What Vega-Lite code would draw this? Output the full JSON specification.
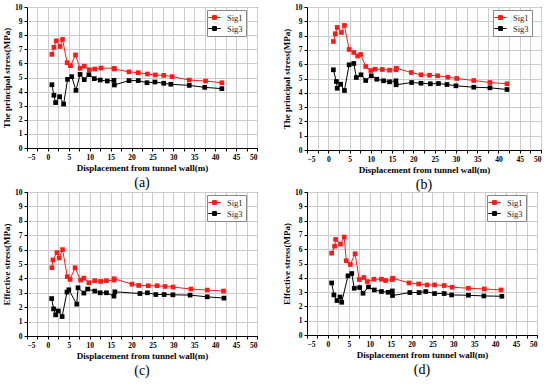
{
  "$schema": "https://vega.github.io/schema/vega-lite/v6.json",
  "padding": {"left": 2, "top": 2, "right": 4, "bottom": 0},
  "background": "white",
  "datasets": {
    "a": [
      {"s":"Sig1","x":0.96,"y":6.64},{"s":"Sig1","x":1.44,"y":7.14},{"s":"Sig1","x":2.0,"y":7.6},{"s":"Sig1","x":2.9,"y":7.2},{"s":"Sig1","x":3.5,"y":7.7},{"s":"Sig1","x":4.6,"y":6.05},{"s":"Sig1","x":5.4,"y":5.84},{"s":"Sig1","x":6.6,"y":6.6},{"s":"Sig1","x":7.7,"y":5.65},{"s":"Sig1","x":8.7,"y":5.8},{"s":"Sig1","x":9.9,"y":5.55},{"s":"Sig1","x":11.2,"y":5.6},{"s":"Sig1","x":12.7,"y":5.67},{"s":"Sig1","x":15.8,"y":5.65},{"s":"Sig1","x":15.9,"y":5.6},{"s":"Sig1","x":19.4,"y":5.4},{"s":"Sig1","x":21.6,"y":5.34},{"s":"Sig1","x":23.8,"y":5.25},{"s":"Sig1","x":25.7,"y":5.18},{"s":"Sig1","x":27.7,"y":5.15},{"s":"Sig1","x":29.7,"y":5.06},{"s":"Sig1","x":33.8,"y":4.82},{"s":"Sig1","x":37.7,"y":4.75},{"s":"Sig1","x":41.6,"y":4.63},
      {"s":"Sig3","x":0.96,"y":4.49},{"s":"Sig3","x":1.44,"y":3.74},{"s":"Sig3","x":1.84,"y":3.22},{"s":"Sig3","x":2.8,"y":3.64},{"s":"Sig3","x":3.76,"y":3.12},{"s":"Sig3","x":4.7,"y":4.87},{"s":"Sig3","x":5.7,"y":5.06},{"s":"Sig3","x":6.7,"y":4.09},{"s":"Sig3","x":7.7,"y":5.22},{"s":"Sig3","x":8.7,"y":4.85},{"s":"Sig3","x":9.8,"y":5.2},{"s":"Sig3","x":11.1,"y":4.92},{"s":"Sig3","x":12.5,"y":4.82},{"s":"Sig3","x":14.2,"y":4.75},{"s":"Sig3","x":15.8,"y":4.8},{"s":"Sig3","x":15.9,"y":4.47},{"s":"Sig3","x":19.4,"y":4.78},{"s":"Sig3","x":21.6,"y":4.78},{"s":"Sig3","x":23.7,"y":4.63},{"s":"Sig3","x":25.6,"y":4.68},{"s":"Sig3","x":27.7,"y":4.59},{"s":"Sig3","x":29.4,"y":4.52},{"s":"Sig3","x":33.8,"y":4.44},{"s":"Sig3","x":37.5,"y":4.3},{"s":"Sig3","x":41.6,"y":4.21}
    ],
    "b": [
      {"s":"Sig1","x":1.2,"y":7.59},{"s":"Sig1","x":1.66,"y":8.13},{"s":"Sig1","x":2.1,"y":8.57},{"s":"Sig1","x":3.1,"y":8.22},{"s":"Sig1","x":3.8,"y":8.71},{"s":"Sig1","x":4.9,"y":7.03},{"s":"Sig1","x":6.0,"y":6.82},{"s":"Sig1","x":6.9,"y":6.57},{"s":"Sig1","x":7.6,"y":6.68},{"s":"Sig1","x":8.8,"y":5.84},{"s":"Sig1","x":10.0,"y":5.56},{"s":"Sig1","x":11.0,"y":5.65},{"s":"Sig1","x":12.7,"y":5.63},{"s":"Sig1","x":14.4,"y":5.58},{"s":"Sig1","x":15.9,"y":5.61},{"s":"Sig1","x":16.0,"y":5.72},{"s":"Sig1","x":19.5,"y":5.42},{"s":"Sig1","x":21.8,"y":5.26},{"s":"Sig1","x":23.8,"y":5.23},{"s":"Sig1","x":25.7,"y":5.19},{"s":"Sig1","x":28.1,"y":5.09},{"s":"Sig1","x":30.2,"y":5.0},{"s":"Sig1","x":34.2,"y":4.86},{"s":"Sig1","x":38.0,"y":4.72},{"s":"Sig1","x":42.0,"y":4.63},
      {"s":"Sig3","x":1.2,"y":5.61},{"s":"Sig3","x":1.9,"y":4.79},{"s":"Sig3","x":2.1,"y":4.32},{"s":"Sig3","x":2.9,"y":4.6},{"s":"Sig3","x":3.8,"y":4.16},{"s":"Sig3","x":4.9,"y":5.96},{"s":"Sig3","x":6.0,"y":6.05},{"s":"Sig3","x":6.6,"y":5.07},{"s":"Sig3","x":7.7,"y":5.26},{"s":"Sig3","x":8.8,"y":4.86},{"s":"Sig3","x":10.1,"y":5.19},{"s":"Sig3","x":11.4,"y":4.95},{"s":"Sig3","x":13.0,"y":4.84},{"s":"Sig3","x":14.4,"y":4.77},{"s":"Sig3","x":15.9,"y":4.84},{"s":"Sig3","x":15.95,"y":4.56},{"s":"Sig3","x":19.6,"y":4.72},{"s":"Sig3","x":21.8,"y":4.67},{"s":"Sig3","x":24.0,"y":4.63},{"s":"Sig3","x":25.9,"y":4.65},{"s":"Sig3","x":27.9,"y":4.58},{"s":"Sig3","x":30.0,"y":4.49},{"s":"Sig3","x":34.2,"y":4.39},{"s":"Sig3","x":38.0,"y":4.35},{"s":"Sig3","x":42.0,"y":4.23}
    ],
    "c": [
      {"s":"Sig1","x":0.96,"y":4.74},{"s":"Sig1","x":1.2,"y":5.28},{"s":"Sig1","x":2.16,"y":5.79},{"s":"Sig1","x":2.7,"y":5.42},{"s":"Sig1","x":3.5,"y":6.0},{"s":"Sig1","x":4.64,"y":4.12},{"s":"Sig1","x":5.3,"y":3.93},{"s":"Sig1","x":6.5,"y":4.74},{"s":"Sig1","x":7.8,"y":3.88},{"s":"Sig1","x":8.6,"y":4.02},{"s":"Sig1","x":9.8,"y":3.7},{"s":"Sig1","x":11.2,"y":3.84},{"s":"Sig1","x":12.6,"y":3.79},{"s":"Sig1","x":14.0,"y":3.84},{"s":"Sig1","x":15.8,"y":3.88},{"s":"Sig1","x":15.85,"y":3.98},{"s":"Sig1","x":20.1,"y":3.6},{"s":"Sig1","x":21.7,"y":3.51},{"s":"Sig1","x":24.0,"y":3.49},{"s":"Sig1","x":26.1,"y":3.49},{"s":"Sig1","x":28.0,"y":3.44},{"s":"Sig1","x":29.9,"y":3.4},{"s":"Sig1","x":34.2,"y":3.26},{"s":"Sig1","x":38.1,"y":3.19},{"s":"Sig1","x":42.0,"y":3.12},
      {"s":"Sig3","x":0.9,"y":2.6},{"s":"Sig3","x":1.36,"y":1.88},{"s":"Sig3","x":1.84,"y":1.47},{"s":"Sig3","x":2.5,"y":1.74},{"s":"Sig3","x":3.4,"y":1.35},{"s":"Sig3","x":4.56,"y":3.05},{"s":"Sig3","x":5.0,"y":3.21},{"s":"Sig3","x":6.9,"y":2.21},{"s":"Sig3","x":7.2,"y":3.35},{"s":"Sig3","x":8.6,"y":2.98},{"s":"Sig3","x":9.5,"y":3.26},{"s":"Sig3","x":11.2,"y":3.12},{"s":"Sig3","x":12.5,"y":3.0},{"s":"Sig3","x":14.0,"y":3.0},{"s":"Sig3","x":15.8,"y":2.77},{"s":"Sig3","x":16.0,"y":3.07},{"s":"Sig3","x":22.0,"y":2.95},{"s":"Sig3","x":23.8,"y":3.0},{"s":"Sig3","x":25.8,"y":2.88},{"s":"Sig3","x":27.8,"y":2.88},{"s":"Sig3","x":29.9,"y":2.86},{"s":"Sig3","x":34.0,"y":2.84},{"s":"Sig3","x":38.1,"y":2.72},{"s":"Sig3","x":42.1,"y":2.63}
    ],
    "d": [
      {"s":"Sig1","x":0.9,"y":5.72},{"s":"Sig1","x":1.6,"y":6.21},{"s":"Sig1","x":1.84,"y":6.68},{"s":"Sig1","x":3.0,"y":6.36},{"s":"Sig1","x":3.9,"y":6.85},{"s":"Sig1","x":4.4,"y":5.19},{"s":"Sig1","x":5.36,"y":4.93},{"s":"Sig1","x":6.5,"y":5.68},{"s":"Sig1","x":7.5,"y":3.88},{"s":"Sig1","x":8.6,"y":4.02},{"s":"Sig1","x":9.4,"y":3.74},{"s":"Sig1","x":11.0,"y":3.9},{"s":"Sig1","x":12.8,"y":3.9},{"s":"Sig1","x":13.8,"y":3.81},{"s":"Sig1","x":15.4,"y":3.88},{"s":"Sig1","x":15.5,"y":3.97},{"s":"Sig1","x":19.4,"y":3.64},{"s":"Sig1","x":21.7,"y":3.57},{"s":"Sig1","x":23.7,"y":3.5},{"s":"Sig1","x":25.5,"y":3.5},{"s":"Sig1","x":27.8,"y":3.46},{"s":"Sig1","x":29.7,"y":3.34},{"s":"Sig1","x":33.6,"y":3.27},{"s":"Sig1","x":37.4,"y":3.22},{"s":"Sig1","x":41.4,"y":3.15},
      {"s":"Sig3","x":0.9,"y":3.64},{"s":"Sig3","x":1.44,"y":2.8},{"s":"Sig3","x":2.16,"y":2.41},{"s":"Sig3","x":2.9,"y":2.66},{"s":"Sig3","x":3.3,"y":2.29},{"s":"Sig3","x":4.8,"y":4.14},{"s":"Sig3","x":5.7,"y":4.3},{"s":"Sig3","x":6.3,"y":3.27},{"s":"Sig3","x":7.6,"y":3.32},{"s":"Sig3","x":8.4,"y":2.92},{"s":"Sig3","x":9.7,"y":3.36},{"s":"Sig3","x":11.1,"y":3.15},{"s":"Sig3","x":12.8,"y":3.04},{"s":"Sig3","x":14.4,"y":2.99},{"s":"Sig3","x":15.4,"y":3.08},{"s":"Sig3","x":15.45,"y":2.76},{"s":"Sig3","x":19.6,"y":2.97},{"s":"Sig3","x":21.8,"y":2.97},{"s":"Sig3","x":23.4,"y":3.04},{"s":"Sig3","x":25.5,"y":2.9},{"s":"Sig3","x":27.8,"y":2.9},{"s":"Sig3","x":29.6,"y":2.8},{"s":"Sig3","x":33.6,"y":2.78},{"s":"Sig3","x":37.3,"y":2.73},{"s":"Sig3","x":41.6,"y":2.71}
    ]
  },
  "config": {
    "font": "Liberation Serif",
    "view": {"stroke": "black", "strokeWidth": 1},
    "axis": {
      "labelFont": "Liberation Serif", "labelFontWeight": "bold", "labelFontSize": 7.5, "labelColor": "black",
      "titleFont": "Liberation Serif", "titleFontWeight": "bold", "titleFontSize": 9, "titleColor": "black",
      "domainColor": "black", "tickColor": "black", "tickSize": 3, "gridColor": "#cccccc", "gridWidth": 1, "labelPadding": 2
    },
    "legend": {
      "labelFont": "Liberation Serif", "labelFontSize": 8.5, "labelColor": "#222",
      "strokeColor": "#888", "padding": 3, "rowPadding": 2, "fillColor": "white",
      "symbolType": "M-1.6,0H1.6M-0.5,-0.5H0.5V0.5H-0.5Z", "symbolSize": 60, "symbolStrokeWidth": 1,
      "orient": "none", "legendX": 180, "legendY": 3, "title": null, "labelOffset": 8
    },
    "title": {"orient": "bottom", "font": "Liberation Serif", "fontSize": 14, "fontWeight": "normal", "color": "black", "offset": 3}
  },
  "columns": 2,
  "spacing": {"row": -5, "column": 24},
  "resolve": {"legend": {"color": "independent"}},
  "concat": [
    {
      "title": "(a)",
      "width": 230, "height": 141,
      "data": {"name": "a"},
      "encoding": {
        "x": {"field": "x", "type": "quantitative", "scale": {"domain": [-5, 50], "nice": false}, "title": "Displacement from tunnel wall(m)",
              "axis": {"values": [-5,-2.5,0,2.5,5,7.5,10,12.5,15,17.5,20,22.5,25,27.5,30,32.5,35,37.5,40,42.5,45,47.5,50], "labelExpr": "datum.value % 5 == 0 ? datum.label : ''", "titlePadding": 3}},
        "y": {"field": "y", "type": "quantitative", "scale": {"domain": [0, 10], "nice": false}, "title": "The principal stress(MPa)",
              "axis": {"values": [0,1,2,3,4,5,6,7,8,9,10], "titlePadding": 3}},
        "color": {"field": "s", "type": "nominal", "scale": {"domain": ["Sig1","Sig3"], "range": ["#ff1a1a","#000000"]}}
      },
      "layer": [
        {"mark": {"type": "line", "strokeWidth": 1}, "encoding": {"order": {"value": null}}},
        {"mark": {"type": "point", "shape": "square", "filled": true, "size": 22, "opacity": 1}}
      ]
    },
    {
      "title": "(b)",
      "width": 234, "height": 143,
      "data": {"name": "b"},
      "encoding": {
        "x": {"field": "x", "type": "quantitative", "scale": {"domain": [-5, 50], "nice": false}, "title": "Displacement from tunnel wall(m)",
              "axis": {"values": [-5,-2.5,0,2.5,5,7.5,10,12.5,15,17.5,20,22.5,25,27.5,30,32.5,35,37.5,40,42.5,45,47.5,50], "labelExpr": "datum.value % 5 == 0 ? datum.label : ''", "titlePadding": 3}},
        "y": {"field": "y", "type": "quantitative", "scale": {"domain": [0, 10], "nice": false}, "title": "The principal stress(MPa)",
              "axis": {"values": [0,1,2,3,4,5,6,7,8,9,10], "titlePadding": 3}},
        "color": {"field": "s", "type": "nominal", "scale": {"domain": ["Sig1","Sig3"], "range": ["#ff1a1a","#000000"]}, "legend": {"legendX": 186}}
      },
      "layer": [
        {"mark": {"type": "line", "strokeWidth": 1}, "encoding": {"order": {"value": null}}},
        {"mark": {"type": "point", "shape": "square", "filled": true, "size": 22, "opacity": 1}}
      ]
    },
    {
      "title": "(c)",
      "width": 230, "height": 144,
      "data": {"name": "c"},
      "encoding": {
        "x": {"field": "x", "type": "quantitative", "scale": {"domain": [-5, 50], "nice": false}, "title": "Displacement from tunnel wall(m)",
              "axis": {"values": [-5,-2.5,0,2.5,5,7.5,10,12.5,15,17.5,20,22.5,25,27.5,30,32.5,35,37.5,40,42.5,45,47.5,50], "labelExpr": "datum.value % 5 == 0 ? datum.label : ''", "titlePadding": 3}},
        "y": {"field": "y", "type": "quantitative", "scale": {"domain": [0, 10], "nice": false}, "title": "Effective stress(MPa)",
              "axis": {"values": [0,1,2,3,4,5,6,7,8,9,10], "titlePadding": 3}},
        "color": {"field": "s", "type": "nominal", "scale": {"domain": ["Sig1","Sig3"], "range": ["#ff1a1a","#000000"]}}
      },
      "layer": [
        {"mark": {"type": "line", "strokeWidth": 1}, "encoding": {"order": {"value": null}}},
        {"mark": {"type": "point", "shape": "square", "filled": true, "size": 22, "opacity": 1}}
      ]
    },
    {
      "title": "(d)",
      "width": 230, "height": 143,
      "data": {"name": "d"},
      "encoding": {
        "x": {"field": "x", "type": "quantitative", "scale": {"domain": [-5, 50], "nice": false}, "title": "Displacement from tunnel wall(m)",
              "axis": {"values": [-5,-2.5,0,2.5,5,7.5,10,12.5,15,17.5,20,22.5,25,27.5,30,32.5,35,37.5,40,42.5,45,47.5,50], "labelExpr": "datum.value % 5 == 0 ? datum.label : ''", "titlePadding": 3}},
        "y": {"field": "y", "type": "quantitative", "scale": {"domain": [0, 10], "nice": false}, "title": "Effective stress(MPa)",
              "axis": {"values": [0,1,2,3,4,5,6,7,8,9,10], "titlePadding": 3}},
        "color": {"field": "s", "type": "nominal", "scale": {"domain": ["Sig1","Sig3"], "range": ["#ff1a1a","#000000"]}}
      },
      "layer": [
        {"mark": {"type": "line", "strokeWidth": 1}, "encoding": {"order": {"value": null}}},
        {"mark": {"type": "point", "shape": "square", "filled": true, "size": 22, "opacity": 1}}
      ]
    }
  ]
}
